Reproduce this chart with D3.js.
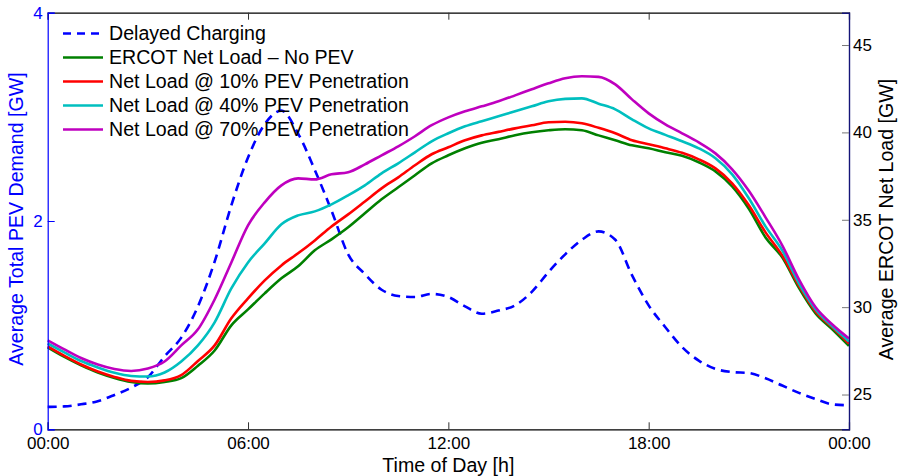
<!DOCTYPE html>
<html>
<head>
<meta charset="utf-8">
<script src="https://cdn.jsdelivr.net/npm/d3@7"></script>
<style>
	body { margin: 0; background: #fff; }
	svg text { font-family: "Liberation Sans", Arial, sans-serif; }
</style>
</head>
<body>
<div id="chart"></div>
<script>
// time of day, half-hour steps
const hours = [0, 0.5, 1, 1.5, 2, 2.5, 3, 3.5, 4, 4.5, 5, 5.5, 6, 6.5, 7, 7.5, 8, 8.5, 9, 9.5,
	10, 10.5, 11, 11.5, 12, 12.5, 13, 13.5, 14, 14.5, 15, 15.5, 16, 16.5, 17, 17.5, 18, 18.5, 19, 19.5,
	20, 20.5, 21, 21.5, 22, 22.5, 23, 23.5, 24];

// left axis [GW]
const delayedCharging = [0.215, 0.22, 0.24, 0.27, 0.33, 0.40, 0.50, 0.70, 0.88, 1.18, 1.61, 2.15, 2.61, 2.93, 3.06, 2.84,
	2.49, 2.10, 1.68, 1.49, 1.34, 1.28, 1.27, 1.30, 1.27, 1.18, 1.11, 1.14, 1.19, 1.32, 1.51, 1.68,
	1.82, 1.90, 1.82, 1.48, 1.19, 0.98, 0.79, 0.66, 0.58, 0.55, 0.54, 0.49, 0.42, 0.35, 0.29, 0.24, 0.23];

// right axis [GW]
const netLoadNoPev = [27.70, 27.15, 26.67, 26.26, 25.95, 25.72, 25.63, 25.72, 25.94, 26.65, 27.52, 28.96, 29.87, 30.79, 31.65, 32.34,
	33.25, 33.88, 34.57, 35.37, 36.17, 36.86, 37.55, 38.23, 38.69, 39.09, 39.41, 39.61, 39.84, 40.01, 40.12, 40.18,
	40.12, 39.83, 39.55, 39.26, 39.09, 38.86, 38.66, 38.29, 37.77, 36.91, 35.63, 33.99, 32.85, 31.10, 29.64, 28.73, 27.78];
const netLoad10 = [27.75, 27.21, 26.72, 26.32, 26.01, 25.78, 25.72, 25.81, 26.11, 26.92, 27.81, 29.36, 30.50, 31.53, 32.39, 33.08,
	33.82, 34.62, 35.31, 36.05, 36.80, 37.43, 38.12, 38.75, 39.15, 39.55, 39.83, 40.03, 40.23, 40.41, 40.58, 40.61,
	40.52, 40.26, 39.95, 39.55, 39.32, 39.09, 38.83, 38.46, 37.94, 37.09, 35.83, 34.28, 32.96, 31.24, 29.76, 28.84, 27.92];
const netLoad40 = [27.92, 27.41, 26.92, 26.55, 26.24, 26.06, 26.03, 26.26, 26.89, 27.81, 29.13, 31.07, 32.56, 33.65, 34.74, 35.25,
	35.48, 35.88, 36.40, 36.97, 37.66, 38.23, 38.86, 39.49, 39.95, 40.35, 40.64, 40.92, 41.21, 41.49, 41.78, 41.92,
	41.95, 41.64, 41.32, 40.75, 40.23, 39.86, 39.49, 39.09, 38.52, 37.60, 36.23, 34.62, 33.25, 31.36, 29.87, 28.90, 28.04];
const netLoad70 = [28.10, 27.58, 27.09, 26.72, 26.46, 26.35, 26.49, 26.89, 27.81, 28.73, 30.44, 32.56, 34.68, 36.00, 36.97, 37.37,
	37.31, 37.60, 37.72, 38.17, 38.69, 39.20, 39.78, 40.41, 40.86, 41.21, 41.49, 41.78, 42.12, 42.47, 42.81, 43.10,
	43.21, 43.18, 42.75, 41.89, 41.09, 40.46, 39.95, 39.43, 38.80, 37.89, 36.66, 35.14, 33.54, 31.59, 29.99, 29.01, 28.21];

const xTickHours = [0, 6, 12, 18, 24];
const xTickLabels = ['00:00', '06:00', '12:00', '18:00', '00:00'];
const leftTicks = [0, 2, 4];
const rightTicks = [25, 30, 35, 40, 45];

const seriesNames = [
	'Delayed Charging',
	'ERCOT Net Load \u2013 No PEV',
	'Net Load @ 10% PEV Penetration',
	'Net Load @ 40% PEV Penetration',
	'Net Load @ 70% PEV Penetration'
];

const WIDTH = 899;
const HEIGHT = 476;
const FONT = '"Liberation Sans", Arial, sans-serif';
const plot = { left: 47.7, right: 849, top: 12.7, bottom: 429.3 };

const svg = d3.select('#chart')
	.append('svg')
	.attr('width', WIDTH)
	.attr('height', HEIGHT);

const x = d3.scaleLinear().domain([0, 24]).range([plot.left, plot.right]);
const yLeft = d3.scaleLinear().domain([0, 4]).range([plot.bottom, plot.top]);
const yRight = d3.scaleLinear().domain([23.01, 46.85]).range([plot.bottom, plot.top]);

// series lines
const lineLeft = d3.line()
	.x((d, i) => x(hours[i]))
	.y(d => yLeft(d))
	.curve(d3.curveMonotoneX);
const lineRight = d3.line()
	.x((d, i) => x(hours[i]))
	.y(d => yRight(d))
	.curve(d3.curveMonotoneX);

const lines = svg.append('g');

lines.append('path')
	.attr('d', lineLeft(delayedCharging))
	.attr('fill', 'none')
	.attr('stroke', '#0000ff')
	.attr('stroke-width', 2.6)
	.attr('stroke-dasharray', '9,6');

const rightSeries = [
	{ values: netLoadNoPev, color: '#008000' },
	{ values: netLoad10, color: '#ff0000' },
	{ values: netLoad40, color: '#00bfbf' },
	{ values: netLoad70, color: '#bf00bf' }
];

rightSeries.forEach(s => {
	lines.append('path')
		.attr('d', lineRight(s.values))
		.attr('fill', 'none')
		.attr('stroke', s.color)
		.attr('stroke-width', 2.6)
		.attr('stroke-linejoin', 'round');
});

// axes
const xAxis = svg.append('g')
	.attr('transform', `translate(0,${plot.bottom})`)
	.call(d3.axisBottom(x)
		.tickValues(xTickHours)
		.tickFormat((d, i) => xTickLabels[i])
		.tickSize(-7)
		.tickPadding(8));
xAxis.attr('font-family', FONT).attr('font-size', 17);
xAxis.select('.domain').attr('stroke', '#000').attr('stroke-width', 1.2);
xAxis.selectAll('.tick line').attr('stroke', '#333');
xAxis.selectAll('.tick text').attr('fill', '#000');

const topAxis = svg.append('g')
	.attr('transform', `translate(0,${plot.top})`)
	.call(d3.axisTop(x)
		.tickValues(xTickHours)
		.tickFormat('')
		.tickSize(-7));
topAxis.select('.domain').attr('stroke', '#000').attr('stroke-width', 1.2);
topAxis.selectAll('.tick line').attr('stroke', '#333');

const leftAxis = svg.append('g')
	.attr('transform', `translate(${plot.left},0)`)
	.call(d3.axisLeft(yLeft)
		.tickValues(leftTicks)
		.tickFormat(d3.format('d'))
		.tickSize(-7)
		.tickPadding(5));
leftAxis.attr('font-family', FONT).attr('font-size', 17);
leftAxis.select('.domain').attr('stroke', '#0000ff').attr('stroke-width', 1.2);
leftAxis.selectAll('.tick line').attr('stroke', '#0000ff');
leftAxis.selectAll('.tick text').attr('fill', '#0000ff');

const rightAxis = svg.append('g')
	.attr('transform', `translate(${plot.right},0)`)
	.call(d3.axisRight(yRight)
		.tickValues(rightTicks)
		.tickFormat(d3.format('d'))
		.tickSize(-7)
		.tickPadding(4));
rightAxis.attr('font-family', FONT).attr('font-size', 17);
rightAxis.select('.domain').attr('stroke', '#141478').attr('stroke-width', 1.4);
rightAxis.selectAll('.tick line').attr('stroke', '#777');
rightAxis.selectAll('.tick text').attr('fill', '#000');

// axis titles
svg.append('text')
	.attr('x', (plot.left + plot.right) / 2)
	.attr('y', 471.5)
	.attr('text-anchor', 'middle')
	.attr('font-size', 19.6)
	.attr('fill', '#000')
	.text('Time of Day [h]');

svg.append('text')
	.attr('transform', 'translate(22.5,219) rotate(-90)')
	.attr('text-anchor', 'middle')
	.attr('font-size', 19.6)
	.attr('fill', '#0000ff')
	.text('Average Total PEV Demand [GW]');

svg.append('text')
	.attr('transform', 'translate(893,219.5) rotate(-90)')
	.attr('text-anchor', 'middle')
	.attr('font-size', 19.6)
	.attr('fill', '#000')
	.text('Average ERCOT Net Load [GW]');

// legend
const legendItems = [
	{ name: seriesNames[0], color: '#0000ff', dash: '8,6' },
	{ name: seriesNames[1], color: '#008000', dash: null },
	{ name: seriesNames[2], color: '#ff0000', dash: null },
	{ name: seriesNames[3], color: '#00bfbf', dash: null },
	{ name: seriesNames[4], color: '#bf00bf', dash: null }
];

const legend = svg.append('g')
	.attr('transform', 'translate(63,33.5)');

const rows = legend.selectAll('g.row')
	.data(legendItems)
	.enter()
	.append('g')
	.attr('transform', (d, i) => `translate(0,${i * 24})`);

rows.append('line')
	.attr('x1', 0)
	.attr('x2', 40)
	.attr('y1', 0)
	.attr('y2', 0)
	.attr('stroke', d => d.color)
	.attr('stroke-width', 2.6)
	.attr('stroke-dasharray', d => d.dash);

rows.append('text')
	.attr('x', 46)
	.attr('y', 0)
	.attr('dy', '0.35em')
	.attr('font-size', 19.6)
	.attr('fill', '#000')
	.text(d => d.name);
</script>
</body>
</html>
